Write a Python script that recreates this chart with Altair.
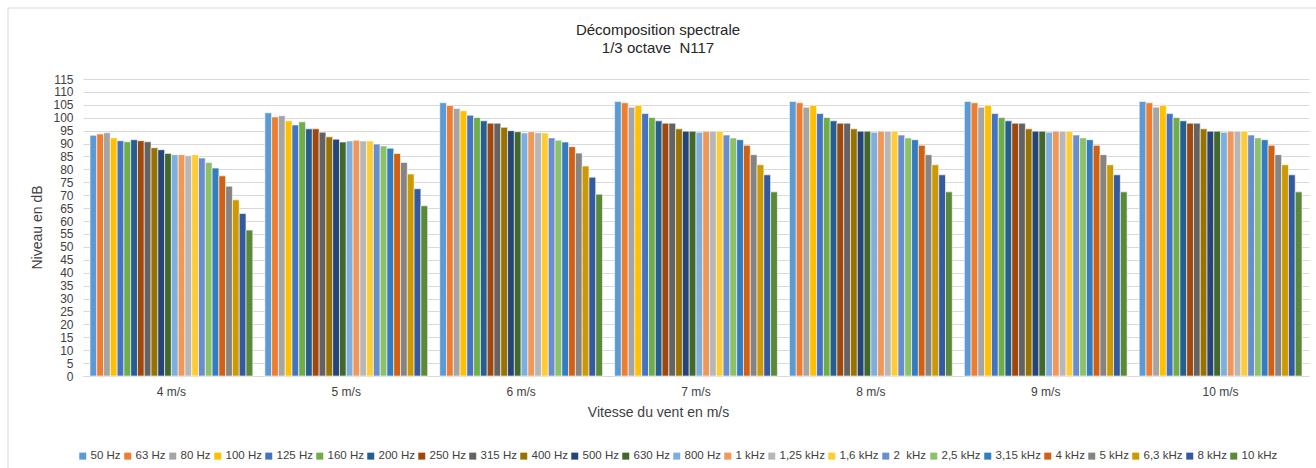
import altair as alt
import pandas as pd

# Wind speeds (groups) and third-octave bands (series)
speeds = ["4 m/s", "5 m/s", "6 m/s", "7 m/s", "8 m/s", "9 m/s", "10 m/s"]
bands = ["50 Hz", "63 Hz", "80 Hz", "100 Hz", "125 Hz", "160 Hz", "200 Hz", "250 Hz",
         "315 Hz", "400 Hz", "500 Hz", "630 Hz", "800 Hz", "1 kHz", "1,25 kHz", "1,6 kHz",
         "2\u00a0 kHz", "2,5 kHz", "3,15 kHz", "4 kHz", "5 kHz", "6,3 kHz", "8 kHz", "10 kHz"]
title_lines = ["Décomposition spectrale", "1/3 octave\u00a0 N117"]

# Sound level per band (dB) at each wind speed
lvl_4 = [93.2, 93.7, 94.2, 92.2, 91.1, 90.7, 91.5, 91.1, 90.7, 88.4, 87.6, 86.2,
         85.7, 85.7, 85.3, 85.7, 84.4, 82.7, 80.5, 77.5, 73.5, 68.2, 62.9, 56.5]
lvl_5 = [101.9, 100.3, 100.8, 98.8, 97.2, 98.4, 95.7, 95.7, 94.4, 92.6, 91.7, 90.6,
         91.0, 91.3, 91.0, 91.0, 89.8, 89.1, 88.2, 86.2, 82.7, 78.2, 72.5, 65.9]
lvl_6 = [105.8, 104.7, 103.6, 102.7, 101.0, 100.1, 98.8, 97.9, 97.9, 96.3, 95.0, 94.6,
         94.1, 94.6, 94.2, 94.1, 92.2, 91.3, 90.6, 88.8, 86.3, 81.3, 77.0, 70.4]
lvl_7 = [106.3, 105.8, 104.1, 104.8, 101.6, 100.1, 98.8, 97.9, 97.9, 95.7, 94.8, 94.8,
         94.4, 94.8, 94.8, 94.8, 93.3, 92.2, 91.5, 89.3, 85.7, 81.8, 77.9, 71.3]
lvl_8 = [106.3, 105.8, 104.1, 104.8, 101.6, 100.1, 98.8, 97.9, 97.9, 95.7, 94.8, 94.8,
         94.4, 94.8, 94.8, 94.8, 93.3, 92.2, 91.5, 89.3, 85.7, 81.8, 77.9, 71.3]
lvl_9 = [106.3, 105.8, 104.1, 104.8, 101.6, 100.1, 98.8, 97.9, 97.9, 95.7, 94.8, 94.8,
         94.4, 94.8, 94.8, 94.8, 93.3, 92.2, 91.5, 89.3, 85.7, 81.8, 77.9, 71.3]
lvl_10 = [106.3, 105.8, 104.1, 104.8, 101.6, 100.1, 98.8, 97.9, 97.9, 95.7, 94.8, 94.8,
          94.4, 94.8, 94.8, 94.8, 93.3, 92.2, 91.5, 89.3, 85.7, 81.8, 77.9, 71.3]

palette = ["#5B9BD5", "#ED7D31", "#A5A5A5", "#FFC000", "#4472C4", "#70AD47",
           "#255E91", "#9E480E", "#636363", "#997300", "#264478", "#43682B",
           "#7CAFDD", "#F1975A", "#B7B7B7", "#FFCD33", "#698ED0", "#8CC168",
           "#327DC2", "#D26012", "#848484", "#CC9A00", "#335AA1", "#5A8A39"]

levels = [lvl_4, lvl_5, lvl_6, lvl_7, lvl_8, lvl_9, lvl_10]
rows = []
for speed, vals in zip(speeds, levels):
    for band, v in zip(bands, vals):
        rows.append({"vitesse": speed, "bande": band, "niveau": v})
df = pd.DataFrame(rows)

FONT = "Liberation Sans"
TXT = "#404040"
GRID = "#D9D9D9"

bars = alt.Chart(df).mark_bar(stroke="white", strokeWidth=0.6).encode(
    x=alt.X("vitesse:N", sort=speeds,
            scale=alt.Scale(paddingInner=0.069, paddingOuter=0.04),
            axis=alt.Axis(title="Vitesse du vent en m/s", labelAngle=0,
                          labelFontSize=12, labelPadding=10, labelColor=TXT,
                          titleFontSize=14, titleFontWeight="normal", titleColor=TXT,
                          titleX=575, titleY=36, titleBaseline="middle",
                          domainColor=GRID, ticks=False, grid=False)),
    xOffset=alt.XOffset("bande:N", sort=bands,
                        scale=alt.Scale(paddingInner=0, paddingOuter=0)),
    y=alt.Y("niveau:Q",
            scale=alt.Scale(domain=[0, 115], nice=False),
            axis=alt.Axis(title="Niveau en dB", values=list(range(0, 120, 5)),
                          labelFontSize=12, labelPadding=10, labelColor=TXT,
                          titleFontSize=14, titleFontWeight="normal", titleColor=TXT,
                          titleX=-46, titleY=148, titleAngle=-90,
                          titleAlign="center", titleBaseline="middle",
                          domain=False, ticks=False, gridColor=GRID, gridWidth=1)),
    color=alt.Color("bande:N",
                    scale=alt.Scale(domain=bands, range=palette),
                    legend=alt.Legend(title=None, orient="none", direction="horizontal",
                                      legendX=-6, legendY=371,
                                      symbolType="square", symbolSize=49,
                                      symbolStrokeWidth=0, labelFontSize=11.5,
                                      labelColor=TXT, labelFont=FONT, labelOffset=2,
                                      columnPadding=1)),
)

# light frame around the whole chart
frame = alt.Chart(alt.Data(values=[{"k": 0}])).mark_rect(
    fill="white", fillOpacity=0, stroke=GRID, strokeWidth=1
).encode(
    x=alt.value(-75), x2=alt.value(1300),
    y=alt.value(-71), y2=alt.value(420),
)

# two-line chart title, centred on the whole chart
title_df = pd.DataFrame({"t": title_lines, "ligne": [0, 1]})
title1 = alt.Chart(title_df).transform_filter("datum.ligne == 0").mark_text(
    font=FONT, fontSize=15, color="#262626", align="center", baseline="middle"
).encode(text="t:N", x=alt.value(575), y=alt.value(-49))
title2 = alt.Chart(title_df).transform_filter("datum.ligne == 1").mark_text(
    font=FONT, fontSize=15, color="#262626", align="center", baseline="middle"
).encode(text="t:N", x=alt.value(575), y=alt.value(-31))

chart = alt.layer(frame, bars, title1, title2).properties(
    width=1226, height=297,
    padding={"left": 83, "top": 79, "right": 7, "bottom": 92},
    autosize=alt.AutoSizeParams(type="none"),
).configure(font=FONT).configure_view(stroke=None)

chart.save("out.html", embed_options={"renderer": "svg", "actions": False})
